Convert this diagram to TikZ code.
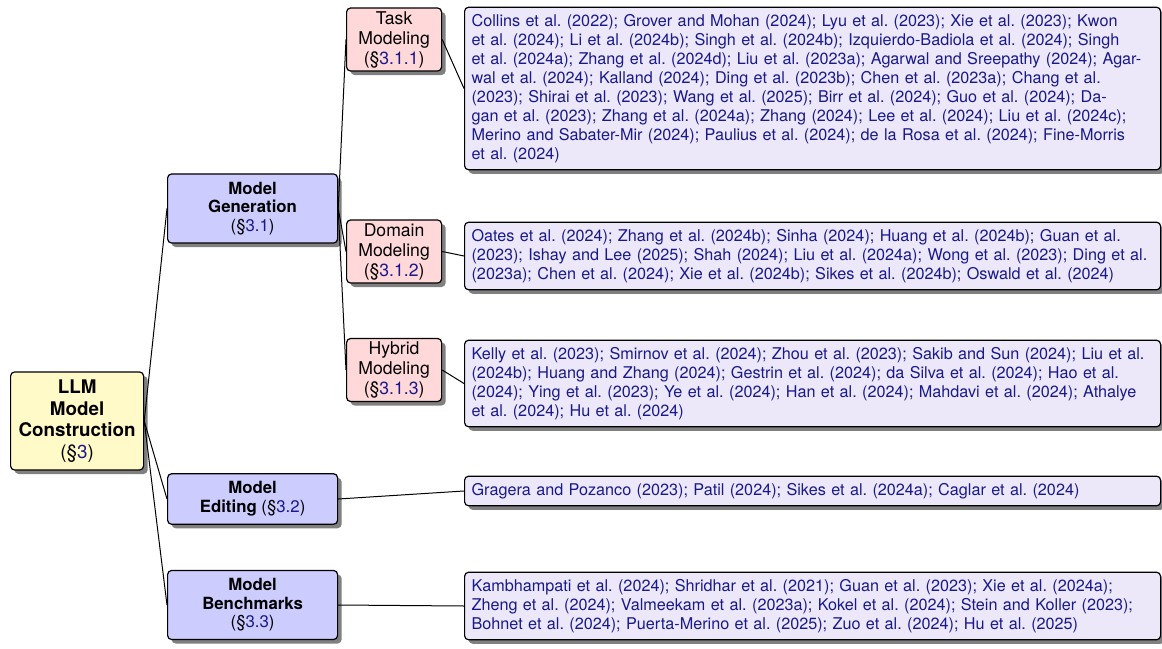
\documentclass[tikz,border=0pt]{standalone}
\usepackage{fontspec}
\setmainfont{TeX Gyre Heros}
\newcommand*{\rootfont}{\fontsize{9.4}{10.8}\selectfont\bfseries}
\newcommand*{\onefont}{\fontsize{8.4}{9.3}\selectfont}
\newcommand*{\twofont}{\fontsize{8.8}{10}\selectfont}
\newcommand*{\leaffont}{\fontsize{8.1}{9.5}\selectfont\frenchspacing}
\newcommand*{\sectag}[1]{(\S\textcolor{citeblue}{#1})}
\definecolor{rootfill}{RGB}{255,250,200}
\definecolor{levelone}{RGB}{204,204,255}
\definecolor{leveltwo}{RGB}{255,217,217}
\definecolor{leaffill}{RGB}{236,232,250}
\definecolor{citeblue}{RGB}{25,25,140}
\definecolor{shadowgray}{RGB}{128,128,128}
\usepackage{tikz}
\usetikzlibrary{shadows}
\tikzstyle{base}=[x=0.5pt, y=-0.5pt]
\tikzstyle{box}=[draw=black, line width=0.6pt, rounded corners=2pt, inner sep=0pt, align=center,
  drop shadow={shadow xshift=2pt, shadow yshift=-2pt, fill=shadowgray, opacity=1}]
\tikzstyle{rootbox}=[box, fill=rootfill, minimum width=66.5pt, minimum height=49pt, font=\rootfont]
\tikzstyle{onebox}=[box, fill=levelone, minimum width=85pt, inner ysep=4pt, font=\onefont]
\tikzstyle{twobox}=[box, fill=leveltwo, minimum width=47.5pt, minimum height=31.5pt, font=\twofont]
\tikzstyle{leafbox}=[box, fill=leaffill, text width=341pt, inner xsep=3.5pt, inner ysep=3.5pt,
  align=left, font=\leaffont, text=citeblue]
\tikzstyle{edge}=[black, line width=0.5pt]

\begin{document}
\begin{tikzpicture}[base]
    \useasboundingbox (0,0) rectangle (1162,648);
    \node [rootbox, anchor=west] (llm) at (10,421) {LLM\\Model\\Construction\\{\mdseries\sectag{3}}};

    \node [onebox, anchor=west] (gen) at (167,208.5) {\textbf{Model}\\\textbf{Generation}\\\sectag{3.1}};
    \node [onebox, anchor=west] (edit) at (167,499) {\textbf{Model}\\\textbf{Editing} \sectag{3.2}};
    \node [onebox, anchor=west] (bench) at (167,605) {\textbf{Model}\\\textbf{Benchmarks}\\\sectag{3.3}};

    \node [twobox, anchor=west] (task) at (346,39.5) {Task\\Modeling\\\sectag{3.1.1}};
    \node [twobox, anchor=west] (domain) at (346,251.5) {Domain\\Modeling\\\sectag{3.1.2}};
    \node [twobox, anchor=west] (hybrid) at (346,370) {Hybrid\\Modeling\\\sectag{3.1.3}};

    \node [leafbox, anchor=west] (taskrefs) at (464,88.5) {Collins et al. (2022); Grover and Mohan (2024); Lyu et al. (2023); Xie et al. (2023); Kwon\\
        et al. (2024); Li et al. (2024b); Singh et al. (2024b); Izquierdo-Badiola et al. (2024); Singh\\
        et al. (2024a); Zhang et al. (2024d); Liu et al. (2023a); Agarwal and Sreepathy (2024); Agar-\\
        wal et al. (2024); Kalland (2024); Ding et al. (2023b); Chen et al. (2023a); Chang et al.\\
        (2023); Shirai et al. (2023); Wang et al. (2025); Birr et al. (2024); Guo et al. (2024); Da-\\
        gan et al. (2023); Zhang et al. (2024a); Zhang (2024); Lee et al. (2024); Liu et al. (2024c);\\
        Merino and Sabater-Mir (2024); Paulius et al. (2024); de la Rosa et al. (2024); Fine-Morris\\
        et al. (2024)};
    \node [leafbox, anchor=west] (domainrefs) at (464,256) {Oates et al. (2024); Zhang et al. (2024b); Sinha (2024); Huang et al. (2024b); Guan et al.\\
        (2023); Ishay and Lee (2025); Shah (2024); Liu et al. (2024a); Wong et al. (2023); Ding et al.\\
        (2023a); Chen et al. (2024); Xie et al. (2024b); Sikes et al. (2024b); Oswald et al. (2024)};
    \node [leafbox, anchor=west] (hybridrefs) at (464,383.5) {Kelly et al. (2023); Smirnov et al. (2024); Zhou et al. (2023); Sakib and Sun (2024); Liu et al.\\
        (2024b); Huang and Zhang (2024); Gestrin et al. (2024); da Silva et al. (2024); Hao et al.\\
        (2024); Ying et al. (2023); Ye et al. (2024); Han et al. (2024); Mahdavi et al. (2024); Athalye\\
        et al. (2024); Hu et al. (2024)};
    \node [leafbox, anchor=west] (editrefs) at (464,491) {Gragera and Pozanco (2023); Patil (2024); Sikes et al. (2024a); Caglar et al. (2024)};
    \node [leafbox, anchor=west] (benchrefs) at (464,606) {Kambhampati et al. (2024); Shridhar et al. (2021); Guan et al. (2023); Xie et al. (2024a);\\
        Zheng et al. (2024); Valmeekam et al. (2023a); Kokel et al. (2024); Stein and Koller (2023);\\
        Bohnet et al. (2024); Puerta-Merino et al. (2025); Zuo et al. (2024); Hu et al. (2025)};

    \draw [edge] (llm.east) -- (gen.west);
    \draw [edge] (llm.east) -- (edit.west);
    \draw [edge] (llm.east) -- (bench.west);
    \draw [edge] (gen.east) -- (task.west);
    \draw [edge] (gen.east) -- (domain.west);
    \draw [edge] (gen.east) -- (hybrid.west);
    \draw [edge] (task.east) -- (taskrefs.west);
    \draw [edge] (domain.east) -- (domainrefs.west);
    \draw [edge] (hybrid.east) -- (hybridrefs.west);
    \draw [edge] (edit.east) -- (editrefs.west);
    \draw [edge] (bench.east) -- (benchrefs.west);
\end{tikzpicture}
\end{document}
